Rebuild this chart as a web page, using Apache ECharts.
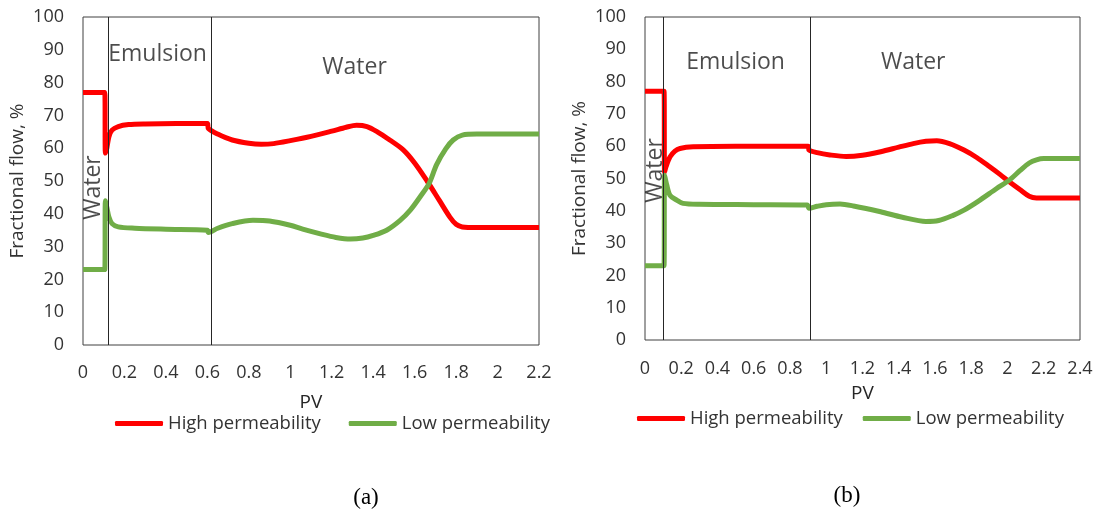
<!DOCTYPE html>
<html><head><meta charset="utf-8">
<script src="https://cdn.jsdelivr.net/npm/echarts@6/dist/echarts.min.js"></script>
<style>html,body{margin:0;padding:0;background:#fff}#c{width:1099px;height:512px}</style>
</head><body><div id="c"></div>
<script>
// ---- Chart (a) ----
const pvHighA = [0, 0.105, 0.108, 0.115, 0.125, 0.14, 0.17, 0.22, 0.3, 0.45, 0.6, 0.605, 0.65, 0.72, 0.8, 0.86, 0.92, 1.0, 1.1, 1.2, 1.27, 1.32, 1.37, 1.42, 1.48, 1.545, 1.6, 1.66, 1.72, 1.77, 1.8, 1.83, 1.9, 2.0, 2.2];
const highA   = [77, 77, 58.5, 60, 63.5, 65.5, 66.6, 67.2, 67.4, 67.5, 67.5, 66, 64.3, 62.5, 61.5, 61.2, 61.4, 62.3, 63.6, 65.2, 66.4, 67, 66.6, 65, 62.5, 59.5, 55.5, 50, 44, 39, 36.8, 36, 35.8, 35.8, 35.8];
const pvLowA  = [0, 0.105, 0.108, 0.115, 0.125, 0.14, 0.17, 0.25, 0.4, 0.6, 0.605, 0.65, 0.72, 0.82, 0.9, 1.0, 1.06, 1.15, 1.22, 1.29, 1.35, 1.4, 1.465, 1.53, 1.58, 1.63, 1.67, 1.706, 1.75, 1.786, 1.83, 1.9, 2.2];
const lowA    = [23, 23, 44, 42, 39, 37, 36, 35.6, 35.3, 35, 34.3, 35.6, 37, 38, 37.8, 36.5, 35.3, 33.8, 32.8, 32.3, 32.6, 33.4, 35, 38, 41.2, 45.5, 49.3, 55, 59.8, 62.5, 64, 64.3, 64.3];
const phaseLinesA = [0.12, 0.62];
const labelTextA = ['Water', 'Emulsion', 'Water'];
const labelPvA   = [0.05, 0.36, 1.31];
const labelValA  = [48, 88.5, 84.5];
const labelRotA  = [90, 0, 0];

// ---- Chart (b) ----
const pvHighB = [0, 0.105, 0.108, 0.115, 0.138, 0.165, 0.193, 0.265, 0.5, 0.9, 0.905, 0.95, 1.02, 1.11, 1.2, 1.3, 1.4, 1.48, 1.55, 1.61, 1.68, 1.76, 1.83, 1.9, 1.96, 2.01, 2.07, 2.12, 2.16, 2.2, 2.4];
const highB   = [77, 77, 52, 53.5, 56.7, 58.5, 59.3, 59.8, 60, 60, 58.8, 58, 57.3, 56.8, 57.2, 58.3, 59.7, 60.8, 61.5, 61.7, 60.8, 58.8, 56.5, 53.7, 51.2, 49, 46.5, 44.5, 44, 44, 44];
const pvLowB  = [0, 0.105, 0.108, 0.12, 0.138, 0.175, 0.21, 0.3, 0.6, 0.895, 0.905, 0.95, 1.0, 1.076, 1.15, 1.3, 1.42, 1.55, 1.62, 1.7, 1.76, 1.84, 1.94, 2.01, 2.07, 2.12, 2.16, 2.2, 2.4];
const lowB    = [23, 23, 51, 48, 44.8, 43.3, 42.3, 42, 41.9, 41.8, 40.8, 41.4, 41.9, 42.1, 41.5, 39.7, 38, 36.7, 37, 38.6, 40.2, 43, 46.9, 49.5, 52.5, 54.8, 55.8, 56.2, 56.2];
const phaseLinesB = [0.095, 0.905];
const labelTextB = ['Water', 'Emulsion', 'Water'];
const labelPvB   = [0.055, 0.5, 1.48];
const labelValB  = [52.5, 86, 86];
const labelRotB  = [90, 0, 0];

const yTicks = {min: 0, max: 100, interval: 10};
const seriesNames = ['High permeability', 'Low permeability'];
const colors = ['#FF0000', '#70AD47'];
const FONT = 'Open Sans';
const TXT = '#333333';

const zip = (xs, ys) => xs.map((x, i) => [x, ys[i]]);
const lbls = (t, xs, ys, rs) => t.map((s, i) => ({value: [xs[i], ys[i]], label: {formatter: s, rotate: rs[i]}}));

function xAxis(gi, max) {
  return {type: 'value', gridIndex: gi, min: 0, max: max, interval: 0.2,
    name: 'PV', nameLocation: 'middle', nameGap: gi === 0 ? 48 : 44,
    nameTextStyle: {fontFamily: FONT, fontSize: 19, color: '#262626'},
    axisLine: {show: false}, axisTick: {show: false}, splitLine: {show: false},
    axisLabel: {fontFamily: FONT, fontSize: 18, color: TXT, margin: gi === 0 ? 19 : 20}};
}
function yAxis(gi) {
  return {type: 'value', gridIndex: gi, min: yTicks.min, max: yTicks.max, interval: yTicks.interval,
    name: 'Fractional flow, %', nameLocation: 'middle', nameGap: 56,
    nameTextStyle: {fontFamily: FONT, fontSize: 19, color: TXT},
    axisLine: {show: false}, axisTick: {show: false}, splitLine: {show: false},
    axisLabel: {fontFamily: FONT, fontSize: 18, color: TXT, margin: 19}};
}
function lineSeries(name, color, gi, data) {
  return {type: 'line', name: name, xAxisIndex: gi, yAxisIndex: gi, data: data,
    showSymbol: false, symbol: 'none', smooth: 0.3,
    lineStyle: {color: color, width: 5}, itemStyle: {color: color}, z: 3};
}
function annoSeries(gi, data, lines) {
  return {type: 'scatter', xAxisIndex: gi, yAxisIndex: gi, symbolSize: 0, data: data, silent: true,
    label: {show: true, position: 'inside', fontFamily: FONT, fontSize: 23, color: '#1f1f1f'},
    markLine: {silent: true, symbol: 'none', label: {show: false},
      lineStyle: {color: '#262626', width: 1, type: 'solid'},
      data: lines.map(v => ({xAxis: v}))}, z: 2};
}

const chart = echarts.init(document.getElementById('c'));
chart.setOption({
  animation: false,
  backgroundColor: '#fff',
  grid: [
    {left: 83, top: 17, width: 456, height: 328, show: true, borderColor: '#404040', borderWidth: 1},
    {left: 645, top: 17, width: 435, height: 323, show: true, borderColor: '#404040', borderWidth: 1}
  ],
  xAxis: [xAxis(0, 2.2), xAxis(1, 2.4)],
  yAxis: [yAxis(0), yAxis(1)],
  legend: [
    {left: 110, top: 409, data: seriesNames, icon: 'roundRect', itemWidth: 48, itemHeight: 5, itemGap: 28,
      textStyle: {fontFamily: FONT, fontSize: 18.5, color: TXT}},
    {left: 632, top: 404, data: seriesNames, icon: 'roundRect', itemWidth: 48, itemHeight: 5, itemGap: 20,
      textStyle: {fontFamily: FONT, fontSize: 18.5, color: TXT}}
  ],
  title: [
    {text: '(a)', left: 361, top: 481, textAlign: 'center',
      textStyle: {fontFamily: 'Liberation Serif', fontSize: 23, fontWeight: 'normal', color: '#000'}},
    {text: '(b)', left: 842, top: 479, textAlign: 'center',
      textStyle: {fontFamily: 'Liberation Serif', fontSize: 23, fontWeight: 'normal', color: '#000'}}
  ],
  series: [
    annoSeries(0, lbls(labelTextA, labelPvA, labelValA, labelRotA), phaseLinesA),
    annoSeries(1, lbls(labelTextB, labelPvB, labelValB, labelRotB), phaseLinesB),
    lineSeries(seriesNames[0], colors[0], 0, zip(pvHighA, highA)),
    lineSeries(seriesNames[1], colors[1], 0, zip(pvLowA, lowA)),
    lineSeries(seriesNames[0], colors[0], 1, zip(pvHighB, highB)),
    lineSeries(seriesNames[1], colors[1], 1, zip(pvLowB, lowB))
  ]
});
</script></body></html>
